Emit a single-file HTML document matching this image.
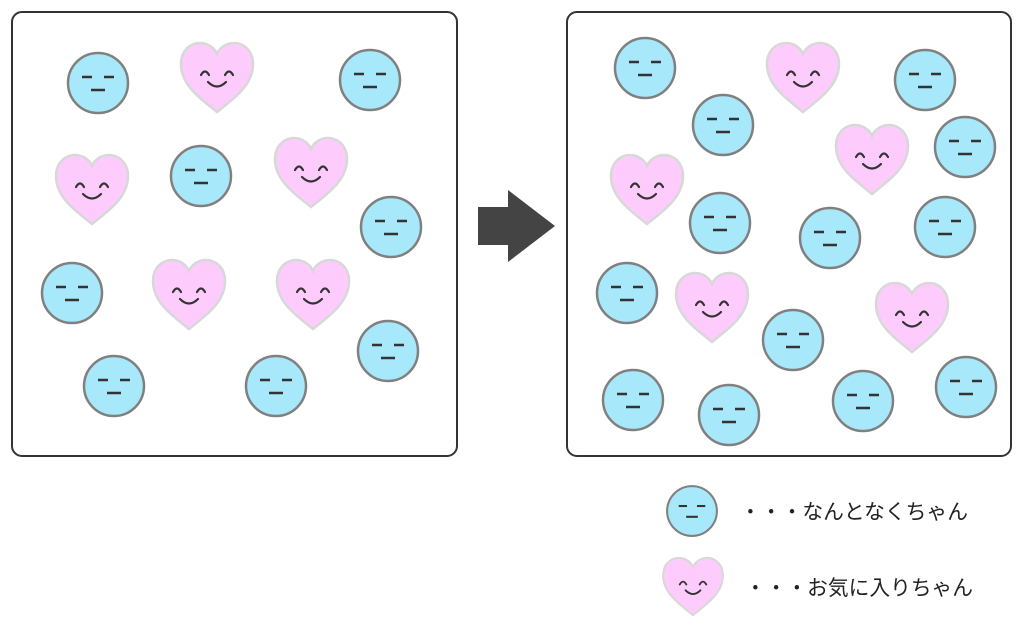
<!DOCTYPE html>
<html><head><meta charset="utf-8"><style>body{margin:0;background:#fff}svg{display:block}</style></head><body>
<svg width="1024" height="635" viewBox="0 0 1024 635" xmlns="http://www.w3.org/2000/svg">
<defs>
<g id="f"><circle r="30" fill="#a8e8fb" stroke="#808080" stroke-width="2.5"/><g stroke="#333" stroke-width="2.5"><line x1="-16" y1="-6" x2="-6" y2="-6"/><line x1="6" y1="-6" x2="16" y2="-6"/><line x1="-7" y1="7" x2="7" y2="7"/></g></g>
<g id="h"><path d="M0,34 C-20,18 -36,6 -36,-14 C-36,-28 -26,-35 -17,-35 C-8,-35 -2,-29 0,-24 C2,-29 8,-35 17,-35 C26,-35 36,-28 36,-14 C36,6 20,18 0,34 Z" fill="#fdccfd" stroke="#d8d8d8" stroke-width="2.5"/><g fill="none" stroke="#333" stroke-width="2.2" stroke-linecap="round"><path d="M-16,-3 Q-12,-10 -8,-3"/><path d="M8,-3 Q12,-10 16,-3"/><path d="M-9,4 Q0,13 9,4"/></g></g>
</defs>
<rect x="12" y="12" width="445" height="444" rx="10" fill="#fff" stroke="#333" stroke-width="2"/>
<rect x="567" y="12" width="444" height="444" rx="10" fill="#fff" stroke="#333" stroke-width="2"/>
<use href="#f" x="98" y="83"/><use href="#f" x="370" y="80"/><use href="#f" x="201" y="176"/><use href="#f" x="391" y="227"/><use href="#f" x="72" y="293"/><use href="#f" x="114" y="386"/><use href="#f" x="276" y="386"/><use href="#f" x="388" y="351"/>
<use href="#h" x="217" y="78"/><use href="#h" x="92" y="190"/><use href="#h" x="311" y="173"/><use href="#h" x="189" y="295"/><use href="#h" x="313" y="295"/>
<use href="#f" x="645" y="68"/><use href="#f" x="723" y="125"/><use href="#f" x="925" y="80"/><use href="#f" x="965" y="147"/><use href="#f" x="720" y="223"/><use href="#f" x="830" y="238"/><use href="#f" x="945" y="227"/><use href="#f" x="627" y="293"/><use href="#f" x="793" y="340"/><use href="#f" x="633" y="400"/><use href="#f" x="729" y="415"/><use href="#f" x="863" y="401"/><use href="#f" x="966" y="387"/>
<use href="#h" x="803" y="78"/><use href="#h" x="872" y="160"/><use href="#h" x="647" y="190"/><use href="#h" x="712" y="308"/><use href="#h" x="912" y="318"/>
<polygon points="478,207 508,207 508,190 555,226 508,262 508,245 478,245" fill="#444"/>
<use href="#f" transform="translate(692,511) scale(0.83)"/>
<use href="#h" transform="translate(693,587) scale(0.83)"/>
<g font-family="'Liberation Sans','Noto Sans CJK JP',sans-serif" font-size="21" fill="#222">
<text x="740" y="519" textLength="228" lengthAdjust="spacingAndGlyphs">・・・なんとなくちゃん</text>
<text x="745" y="595" textLength="228" lengthAdjust="spacingAndGlyphs">・・・お気に入りちゃん</text>
</g>
</svg>
</body></html>
